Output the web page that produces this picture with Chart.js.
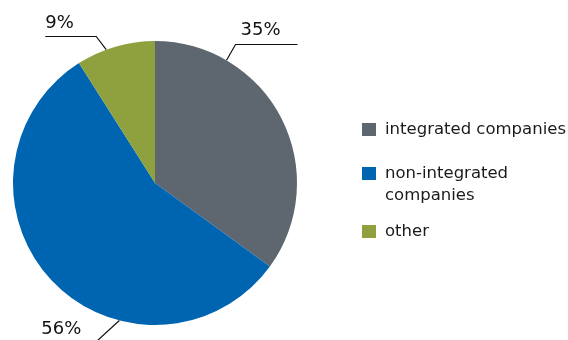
<!DOCTYPE html>
<html>
<head>
<meta charset="utf-8">
<script src="https://cdn.jsdelivr.net/npm/chart.js@4"></script>
<style>
  html, body { margin: 0; padding: 0; background: #fff; }
  canvas { display: block; }
</style>
</head>
<body>
<canvas id="graficoEmpresas" width="568" height="340"></canvas>
<script>
const categories = ['integrated companies', 'non-integrated companies', 'other'];
const shares = [35, 56, 9];
const colores = ['#5e6770', '#0065b1', '#8fa03f'];

// leader line layout per slice: where on the arc, elbow offset, horizontal run, text offset
const leaders = [
    { at: 0.24, dx: 9, dy: -16, run: 62, tx: 5, ty: -10, align: 'left' },
    { at: 0.34, dx: -24, dy: 22, run: 70, tx: -14, ty: -9, align: 'right' },
    { at: 0.38, dx: -10, dy: -14, run: 51, tx: -51, ty: -9, align: 'left', back: true }
];

const etiquetasPie = {
    id: 'etiquetasPie',
    afterDraw(chart) {
        const ctx = chart.ctx;
        const meta = chart.getDatasetMeta(0);
        ctx.save();
        ctx.strokeStyle = '#111';
        ctx.lineWidth = 1.2;
        ctx.fillStyle = '#111';
        ctx.font = '18px "DejaVu Sans"';
        ctx.textBaseline = 'alphabetic';
        meta.data.forEach((arc, i) => {
            const p = arc.getProps(['x', 'y', 'startAngle', 'endAngle', 'outerRadius'], true);
            const l = leaders[i];
            const a = p.startAngle + (p.endAngle - p.startAngle) * l.at;
            const x0 = p.x + Math.cos(a) * p.outerRadius;
            const y0 = p.y + Math.sin(a) * p.outerRadius;
            const ex = x0 + l.dx;
            const ey = Math.round(y0 + l.dy) + 0.5;
            const dir = (l.align === 'right' || l.back) ? -1 : 1;
            ctx.beginPath();
            ctx.moveTo(x0, y0);
            ctx.lineTo(ex, ey);
            ctx.lineTo(ex + l.run * dir, ey);
            ctx.stroke();
            ctx.textAlign = l.align;
            ctx.fillText(shares[i] + '%', ex + l.tx, ey + l.ty);
        });
        ctx.restore();
    }
};

const leyenda = {
    id: 'leyenda',
    afterDraw(chart) {
        const ctx = chart.ctx;
        const filas = [134, 178, 236];
        const x = 362, maxW = 183;
        ctx.save();
        ctx.font = '16.5px "DejaVu Sans"';
        ctx.textAlign = 'left';
        ctx.textBaseline = 'alphabetic';
        categories.forEach((cat, i) => {
            const y = filas[i];
            ctx.fillStyle = colores[i];
            ctx.fillRect(x, y - 11, 14, 13);
            // partir el texto en lineas
            const palabras = cat.split(' ');
            const lineas = [];
            let actual = '';
            palabras.forEach(w => {
                const prueba = actual ? actual + ' ' + w : w;
                if (ctx.measureText(prueba).width > maxW && actual) {
                    lineas.push(actual);
                    actual = w;
                } else {
                    actual = prueba;
                }
            });
            lineas.push(actual);
            ctx.fillStyle = '#1a1a1a';
            lineas.forEach((ln, k) => ctx.fillText(ln, x + 23, y + k * 22));
        });
        ctx.restore();
    }
};

new Chart(document.getElementById('graficoEmpresas'), {
    type: 'pie',
    data: {
        labels: categories,
        datasets: [{
            data: shares,
            backgroundColor: colores,
            borderWidth: 0
        }]
    },
    options: {
        responsive: false,
        animation: false,
        layout: { padding: { left: 13, right: 271, top: 41, bottom: 15 } },
        plugins: {
            legend: { display: false },
            tooltip: { enabled: false }
        }
    },
    plugins: [etiquetasPie, leyenda]
});
</script>
</body>
</html>
